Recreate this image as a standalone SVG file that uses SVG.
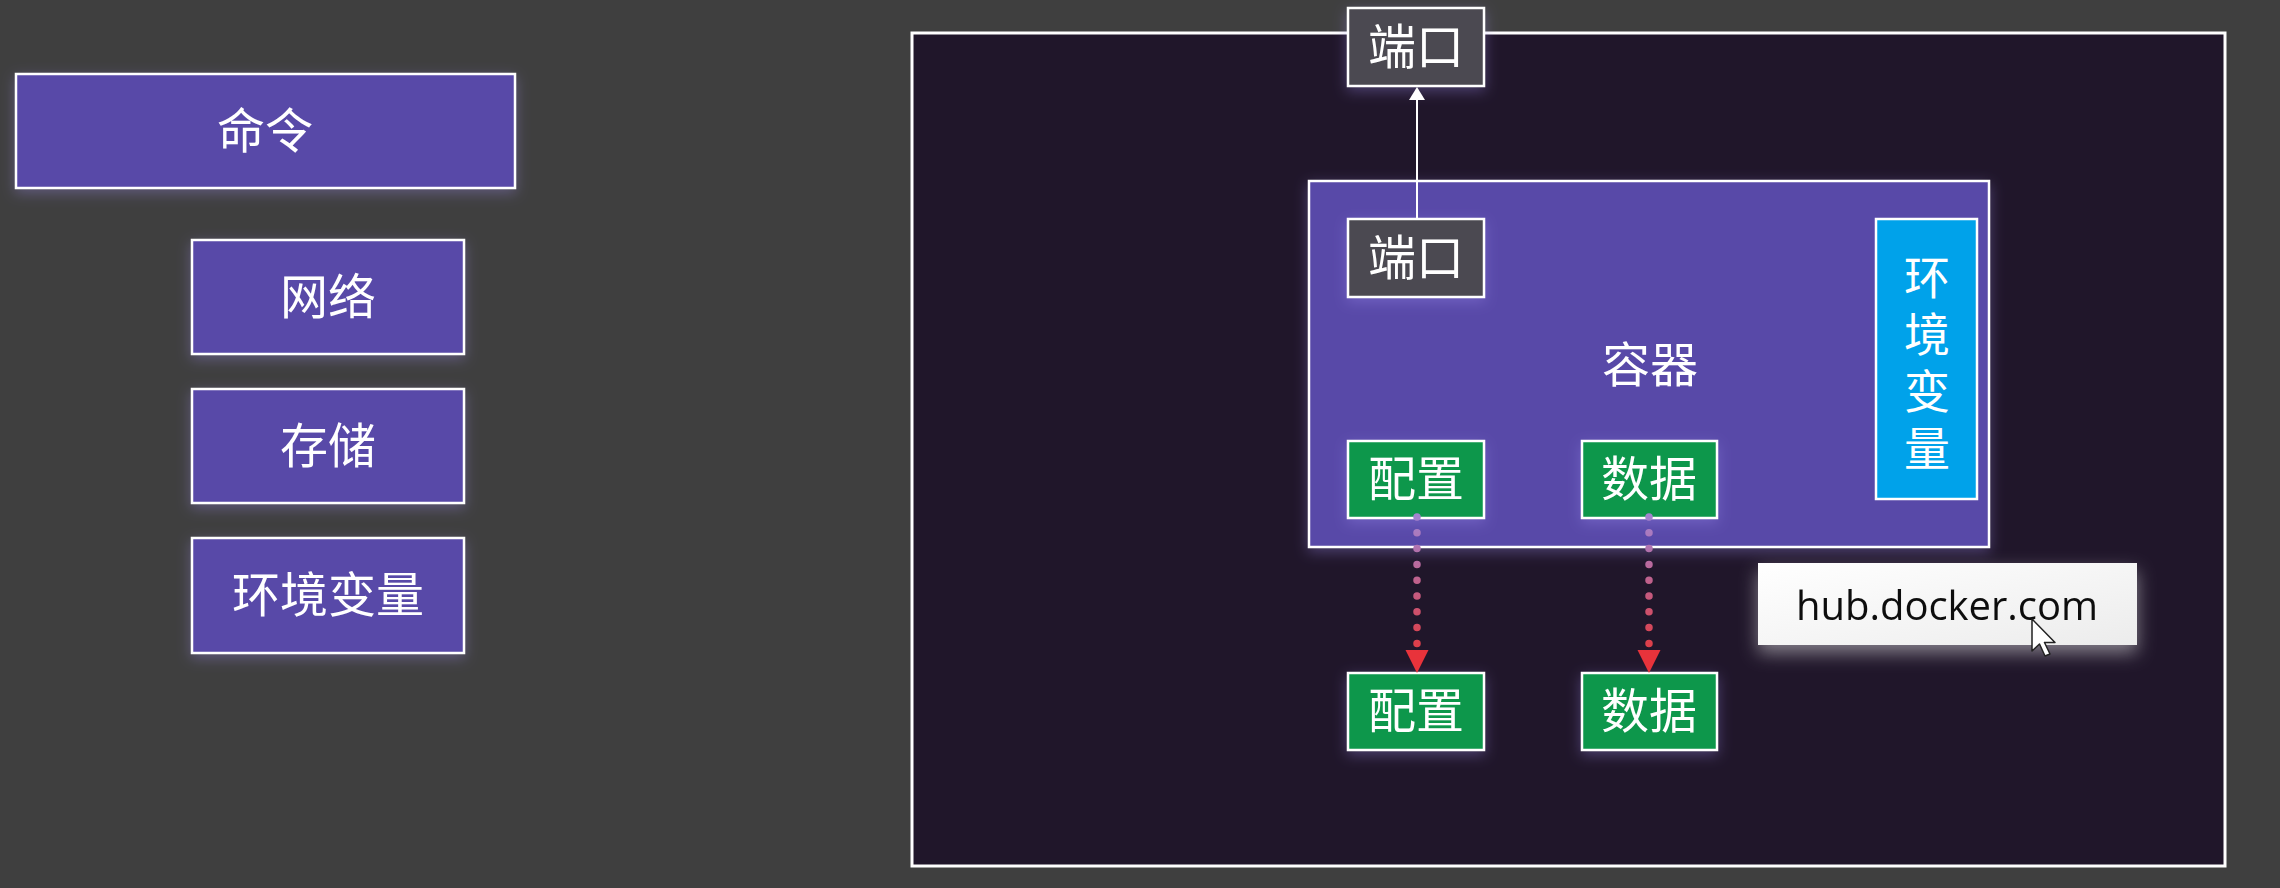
<svg xmlns="http://www.w3.org/2000/svg" width="2280" height="888" viewBox="0 0 2280 888">
<defs>
<style>
.lbl{font-family:"Noto Sans CJK SC","Noto Sans",sans-serif;font-size:48px;fill:#ffffff;text-anchor:middle}
.vert{font-family:"Noto Sans CJK SC","Noto Sans",sans-serif;font-size:46px;fill:#ffffff;writing-mode:vertical-rl;letter-spacing:11px;text-anchor:start}
.purple{fill:#5849a8;stroke:#ffffff;stroke-width:2.5}
.grey{fill:#4b4a51;stroke:#ffffff;stroke-width:2.5}
.green{fill:#0e974b;stroke:#ffffff;stroke-width:2.5}
.blue{fill:#00a2ea;stroke:#ffffff;stroke-width:2.5}
.dots{fill:none;stroke-width:7.5;stroke-linecap:round;stroke-dasharray:0 15.8}
</style>
<filter id="glow" x="-20%" y="-30%" width="140%" height="160%">
<feDropShadow dx="0" dy="4" stdDeviation="7" flood-color="#9d8cf0" flood-opacity="0.35"/>
</filter>
<filter id="wglow" x="-20%" y="-40%" width="140%" height="190%">
<feDropShadow dx="0" dy="8" stdDeviation="9" flood-color="#ffffff" flood-opacity="0.45"/>
</filter>
<linearGradient id="dotg" gradientUnits="userSpaceOnUse" x1="0" y1="517" x2="0" y2="644">
<stop offset="0" stop-color="#a383cf"/>
<stop offset="1" stop-color="#dc3f4a"/>
</linearGradient>
<linearGradient id="hubg" x1="0" y1="0" x2="1" y2="1">
<stop offset="0" stop-color="#ffffff"/>
<stop offset="1" stop-color="#ececec"/>
</linearGradient>
</defs>
<rect x="0" y="0" width="2280" height="888" fill="#3f3f3f"/>

<g id="cmd" filter="url(#glow)"><rect class="purple" x="16" y="74" width="499" height="114"/><text class="lbl" x="265" y="148">命令</text></g>
<g id="network" filter="url(#glow)"><rect class="purple" x="192" y="240" width="272" height="114"/><text class="lbl" x="328" y="314">网络</text></g>
<g id="storage" filter="url(#glow)"><rect class="purple" x="192" y="389" width="272" height="114"/><text class="lbl" x="328" y="463">存储</text></g>
<g id="envvars" filter="url(#glow)"><rect class="purple" x="192" y="538" width="272" height="115"/><text class="lbl" x="328" y="612">环境变量</text></g>

<g id="host"><rect x="912" y="33" width="1313" height="833" fill="#20162a" stroke="#ffffff" stroke-width="3"/></g>

<g id="container" filter="url(#glow)"><rect class="purple" x="1309" y="181" width="680" height="366"/><text class="lbl" x="1650" y="382">容器</text></g>

<g id="host-port" filter="url(#glow)"><rect class="grey" x="1348" y="8" width="136" height="78"/><text class="lbl" x="1416" y="64">端口</text></g>
<g id="container-port" filter="url(#glow)"><rect class="grey" x="1348" y="219" width="136" height="78"/><text class="lbl" x="1416" y="275">端口</text></g>

<g id="env-box"><rect class="blue" x="1876" y="219" width="101" height="280"/>
<text class="vert" x="1927" y="254">环境变量</text></g>

<g id="cfg-in" filter="url(#glow)"><rect class="green" x="1348" y="441" width="136" height="77"/><text class="lbl" x="1416" y="496">配置</text></g>
<g id="data-in" filter="url(#glow)"><rect class="green" x="1582" y="441" width="135" height="77"/><text class="lbl" x="1649" y="496">数据</text></g>
<g id="cfg-out" filter="url(#glow)"><rect class="green" x="1348" y="673" width="136" height="77"/><text class="lbl" x="1416" y="728">配置</text></g>
<g id="data-out" filter="url(#glow)"><rect class="green" x="1582" y="673" width="135" height="77"/><text class="lbl" x="1649" y="728">数据</text></g>

<g id="hub" filter="url(#wglow)"><rect x="1758" y="563" width="379" height="82" fill="url(#hubg)"/><text x="1796" y="620" font-family="'Open Sans','Noto Sans',sans-serif" font-size="40" fill="#111111" textLength="302">hub.docker.com</text></g>

<g id="connectors">
<line x1="1417" y1="219" x2="1417" y2="99" stroke="#ffffff" stroke-width="2"/>
<polygon points="1409,100 1425,100 1417,87" fill="#ffffff"/>
<line class="dots" x1="1417" y1="517" x2="1417" y2="645" stroke="url(#dotg)"/>
<polygon points="1405.5,650 1428.5,650 1417,673" fill="#e8333b"/>
<line class="dots" x1="1649" y1="517" x2="1649" y2="645" stroke="url(#dotg)"/>
<polygon points="1637.5,650 1660.5,650 1649,673" fill="#e8333b"/>
</g>

<g id="cursor"><polygon points="2032,619 2032,651 2039.5,644 2045,656 2050,654 2044.5,642.5 2055,642.5" fill="#ffffff" stroke="#222222" stroke-width="1.5" stroke-linejoin="round"/></g>
</svg>
